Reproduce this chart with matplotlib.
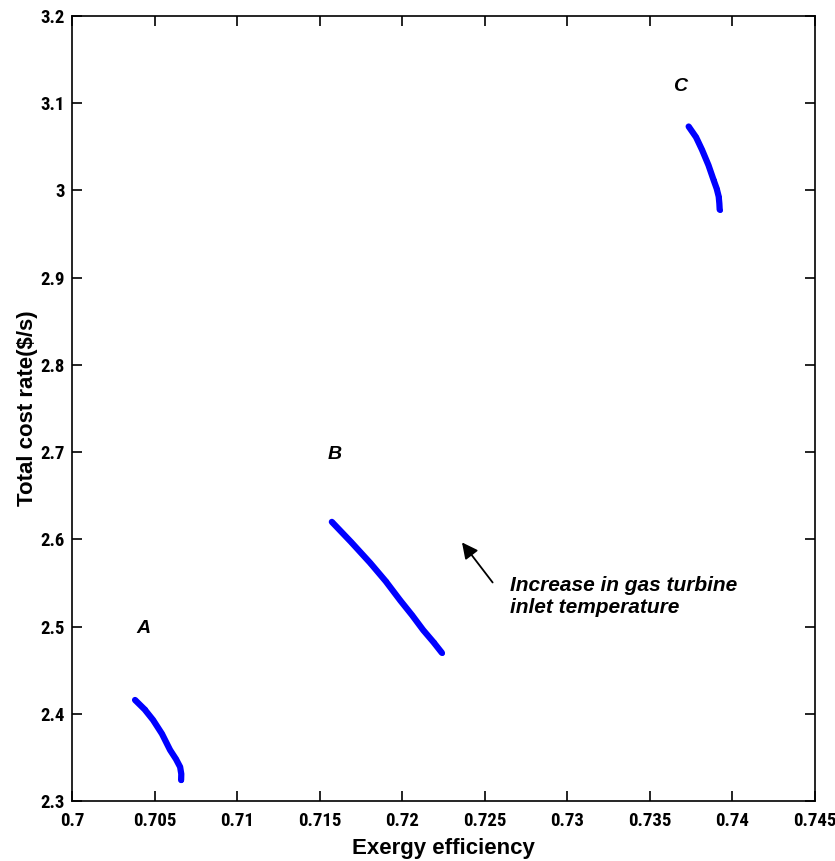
import numpy as np
import matplotlib.pyplot as plt
from matplotlib import font_manager

# valores
a_x = [0.70382, 0.70440, 0.70491, 0.70545, 0.70594, 0.70630, 0.70655, 0.70662, 0.70661]
a_y = [2.4158, 2.4050, 2.3929, 2.3770, 2.3585, 2.3480, 2.3390, 2.3310, 2.3240]
b_x = [0.71574, 0.71690, 0.71806, 0.71900, 0.71988, 0.72060, 0.72127, 0.72190, 0.72240]
b_y = [2.6200, 2.5970, 2.5730, 2.5520, 2.5300, 2.5130, 2.4960, 2.4820, 2.4700]
c_x = [0.73735, 0.73780, 0.73816, 0.73855, 0.73887, 0.73905, 0.73917, 0.73921, 0.73923]
c_y = [3.0733, 3.0610, 3.0466, 3.0290, 3.0115, 3.0020, 2.9930, 2.9850, 2.9780]

rot_x = [0.7043, 0.71594, 0.73685]
rot_y = [2.498, 2.697, 3.119]
rotulos = ['A', 'B', 'C']

xticks = [0.7, 0.705, 0.71, 0.715, 0.72, 0.725, 0.73, 0.735, 0.74, 0.745]
yticks = [2.3, 2.4, 2.5, 2.6, 2.7, 2.8, 2.9, 3.0, 3.1, 3.2]
xtick_lab = ['0.7', '0.705', '0.71', '0.715', '0.72', '0.725', '0.73', '0.735', '0.74', '0.745']
ytick_lab = ['2.3', '2.4', '2.5', '2.6', '2.7', '2.8', '2.9', '3', '3.1', '3.2']

fontes = ['Liberation Sans', 'DejaVu Sans']
plt.rcParams['font.family'] = fontes

# fonte estreita para os ticks, se existir
nomes = {f.name for f in font_manager.fontManager.ttflist}
estreita = None
for n in ['Liberation Sans Narrow', 'DejaVu Sans Condensed', 'Roboto Condensed']:
    if n in nomes:
        estreita = n
        break

fig = plt.figure(figsize=(8.35, 8.61), dpi=100)
ax = fig.add_axes([0.0862, 0.0697, 0.8898, 0.9117])

for xs, ys in [(a_x, a_y), (b_x, b_y), (c_x, c_y)]:
    ax.plot(xs, ys, color='#0000ff', lw=4.5, marker='.', ms=5, solid_capstyle='round')

for x, y, t in zip(rot_x, rot_y, rotulos):
    ax.text(x, y, t, fontsize=14, fontweight='bold', style='italic',
            ha='center', va='center')

ax.annotate('', xy=(0.72352, 2.599), xytext=(0.72558, 2.548),
            arrowprops=dict(arrowstyle='-|>', color='black', lw=1.3, mutation_scale=24))
ax.text(0.72655, 2.558, 'Increase in gas turbine\ninlet temperature', fontsize=15,
        fontweight='bold', style='italic', ha='left', va='top', linespacing=1.2)

ax.set_xlim(0.7, 0.745)
ax.set_ylim(2.3, 3.2)
ax.set_xticks(xticks)
ax.set_yticks(yticks)
ax.set_xticklabels(xtick_lab)
ax.set_yticklabels(ytick_lab)
ax.tick_params(direction='in', top=True, right=True, length=7, width=1.2)
ax.tick_params(axis='x', pad=8)
ax.tick_params(axis='y', pad=5)
for lab in ax.get_xticklabels() + ax.get_yticklabels():
    lab.set_fontweight('bold')
    if estreita:
        lab.set_family([estreita, 'DejaVu Sans'])
        lab.set_fontsize(13.5)
    else:
        lab.set_fontsize(12)
        lab.set_fontstretch('condensed')
for s in ax.spines.values():
    s.set_linewidth(1.2)
ax.set_xlabel('Exergy efficiency', fontsize=16, fontweight='bold', labelpad=6)
ax.set_ylabel('Total cost rate($/s)', fontsize=16, fontweight='bold', labelpad=2)

fig.savefig('out.png')
